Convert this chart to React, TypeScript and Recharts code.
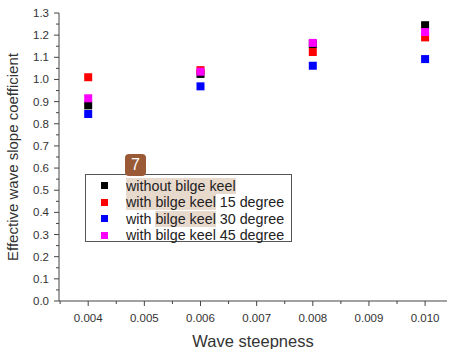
import React from 'react';
import { ScatterChart, Scatter, XAxis, YAxis, ZAxis, Legend } from 'recharts';

// wave steepness (x) and coefficient per configuration
const steepness = [0.004, 0.006, 0.008, 0.01];
const noKeel = [0.883, 1.025, 1.16, 1.245];
const keel15 = [1.01, 1.042, 1.124, 1.19];
const keel30 = [0.844, 0.969, 1.062, 1.092];
const keel45 = [0.915, 1.035, 1.165, 1.214];

const xTicks = [0.0035, 0.004, 0.0045, 0.005, 0.0055, 0.006, 0.0065, 0.007, 0.0075, 0.008, 0.0085, 0.009, 0.0095, 0.01];
const yTicks = [0, 0.05, 0.1, 0.15, 0.2, 0.25, 0.3, 0.35, 0.4, 0.45, 0.5, 0.55, 0.6, 0.65, 0.7, 0.75, 0.8, 0.85, 0.9, 0.95, 1.0, 1.05, 1.1, 1.15, 1.2, 1.25, 1.3];

const FONT = '"Liberation Sans", Arial, sans-serif';
const AXIS = '#444';
const HL = '#e8d9cd';

const toPoints = (vals: number[]) => steepness.map((x, i) => ({ x, y: vals[i] }));

const series = [
  { name: 'without bilge keel', color: '#000000', data: toPoints(noKeel) },
  { name: 'with bilge keel 15 degree', color: '#ff0000', data: toPoints(keel15) },
  { name: 'with bilge keel 30 degree', color: '#0000ff', data: toPoints(keel30) },
  { name: 'with bilge keel 45 degree', color: '#ff00ff', data: toPoints(keel45) },
];

function XTick({ x, y, payload }: any) {
  const v = payload.value;
  const major = Math.abs(v * 1000 - Math.round(v * 1000)) < 1e-6;
  return (
    <g>
      <line x1={x} x2={x} y1={y} y2={y + (major ? 5 : 3)} stroke={AXIS} />
      {major && (
        <text x={x} y={y + 21} textAnchor="middle" fontSize={11.5} fill="#333" fontFamily={FONT}>
          {v.toFixed(3)}
        </text>
      )}
    </g>
  );
}

function YTick({ x, y, payload }: any) {
  const v = payload.value;
  const major = Math.abs(v * 10 - Math.round(v * 10)) < 1e-6;
  return (
    <g>
      <line x1={x - (major ? 5 : 3)} x2={x} y1={y} y2={y} stroke={AXIS} />
      {major && (
        <text x={x - 10} y={y + 4} textAnchor="end" fontSize={11.5} fill="#333" fontFamily={FONT}>
          {v.toFixed(1)}
        </text>
      )}
    </g>
  );
}

// legend with the highlighted words from the source image
function LegendBox() {
  const rows = [
    [{ t: 'without bilge keel', h: true }],
    [{ t: 'with bilge keel', h: true }, { t: ' 15 degree', h: false }],
    [{ t: 'with ', h: false }, { t: 'bilge keel', h: true }, { t: ' 30 degree', h: false }],
    [{ t: 'with bilge keel 45 degree', h: false }],
  ];
  return (
    <div style={{ position: 'relative', width: 207, height: 68, border: '1px solid #555', background: '#fff', boxSizing: 'border-box', fontFamily: FONT, fontSize: 14.3, color: '#222' }}>
      <div style={{ position: 'absolute', left: 39, top: -21, width: 21, height: 22, background: '#9b5a36', borderRadius: 4, color: '#fff', fontSize: 16, lineHeight: '22px', textAlign: 'center' }}>7</div>
      {series.map((s, i) => (
        <div key={s.name} style={{ position: 'absolute', left: 15, top: 2 + i * 16.6, height: 17, display: 'flex', alignItems: 'center', whiteSpace: 'pre' }}>
          <span style={{ width: 7, height: 7, background: s.color, marginRight: 18 }} />
          {rows[i].map((p, j) => (
            <span key={j} style={{ background: p.h ? HL : 'transparent' }}>{p.t}</span>
          ))}
        </div>
      ))}
    </div>
  );
}

export default function App() {
  return (
    <div style={{ position: 'absolute', left: 0, top: 0, background: '#fff' }}>
      <ScatterChart width={449} height={349} margin={{ top: 13, right: 2, bottom: 0, left: 0 }}>
        <XAxis
          type="number"
          dataKey="x"
          domain={[0.00348, 0.01039]}
          ticks={xTicks}
          interval={0}
          height={48}
          tickSize={0}
          tickMargin={0}
          stroke={AXIS}
          tick={<XTick />}
          allowDataOverflow
          label={{ value: 'Wave steepness', position: 'insideBottom', offset: 2, fontSize: 16.5, fill: '#333', fontFamily: FONT }}
        />
        <YAxis
          type="number"
          dataKey="y"
          domain={[0, 1.3]}
          ticks={yTicks}
          interval={0}
          width={59}
          tickSize={0}
          tickMargin={0}
          stroke={AXIS}
          tick={<YTick />}
          allowDataOverflow
          label={{
            value: 'Effective wave slope coefficient',
            angle: -90,
            position: 'insideLeft',
            offset: 13,
            fontSize: 15,
            fill: '#333',
            fontFamily: FONT,
            style: { textAnchor: 'middle' },
          }}
        />
        <ZAxis range={[50, 50]} />
        <Legend
          layout="vertical"
          align="center"
          verticalAlign="middle"
          content={<LegendBox />}
          wrapperStyle={{ position: 'absolute', left: 85, top: 174, width: 207 }}
        />
        {series.map((s) => (
          <Scatter key={s.name} name={s.name} data={s.data} fill={s.color} shape="square" isAnimationActive={false} />
        ))}
      </ScatterChart>
    </div>
  );
}
